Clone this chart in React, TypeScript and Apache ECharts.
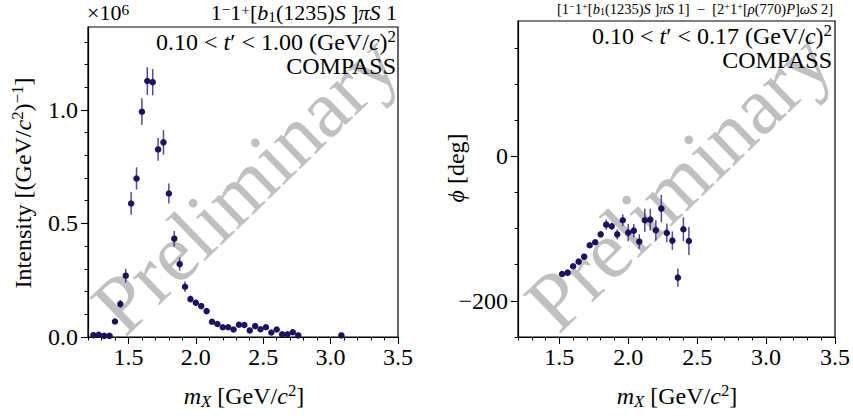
import React, { useEffect, useRef } from 'react';
import * as echarts from 'echarts';

// ---------- data ----------
const massL = [1.24, 1.28, 1.32, 1.36, 1.40, 1.44, 1.48, 1.52, 1.56, 1.60, 1.64, 1.68, 1.72, 1.76, 1.80, 1.84, 1.88, 1.92, 1.96, 2.00, 2.04, 2.08, 2.12, 2.16, 2.20, 2.24, 2.28, 2.32, 2.36, 2.40, 2.44, 2.48, 2.52, 2.56, 2.60, 2.64, 2.68, 2.72, 2.76, 3.08];
// intensity in units of 10^6
const intensityL = [0.008, 0.010, 0.005, 0.005, 0.068, 0.145, 0.270, 0.588, 0.698, 0.992, 1.127, 1.122, 0.826, 0.857, 0.632, 0.433, 0.321, 0.221, 0.167, 0.151, 0.136, 0.114, 0.067, 0.057, 0.043, 0.043, 0.033, 0.054, 0.053, 0.029, 0.048, 0.034, 0.043, 0.020, 0.033, 0.012, 0.012, 0.021, 0.007, 0.007];
const errL = [0.005, 0.005, 0.005, 0.005, 0.010, 0.018, 0.030, 0.050, 0.049, 0.059, 0.061, 0.058, 0.050, 0.054, 0.044, 0.034, 0.029, 0.023, 0.015, 0.013, 0.012, 0.011, 0.009, 0.008, 0.007, 0.007, 0.007, 0.007, 0.007, 0.007, 0.007, 0.007, 0.007, 0.006, 0.006, 0.006, 0.006, 0.006, 0.005, 0.005];

const massR = [1.52, 1.56, 1.60, 1.64, 1.68, 1.72, 1.76, 1.80, 1.84, 1.88, 1.92, 1.96, 2.00, 2.04, 2.08, 2.12, 2.16, 2.20, 2.24, 2.28, 2.32, 2.36, 2.40, 2.44];
const phaseR = [-162.9, -161.0, -152.2, -145.8, -138.9, -123.2, -119.0, -108.0, -94.6, -96.9, -108.0, -88.6, -105.6, -102.9, -118.1, -88.6, -87.7, -102.4, -72.4, -106.1, -116.7, -167.9, -101.0, -117.2];
const errR = [2, 2, 2, 2, 2, 3, 3, 4, 7, 5, 7, 8, 12, 9, 10, 16, 15, 14, 19, 13, 12.7, 12.7, 16.6, 19.4];

const xMajorTicks = [1.5, 2.0, 2.5, 3.0, 3.5];
const xMinorTicks = [1.2, 1.3, 1.4, 1.6, 1.7, 1.8, 1.9, 2.1, 2.2, 2.3, 2.4, 2.6, 2.7, 2.8, 2.9, 3.1, 3.2, 3.3, 3.4];
const yMajorTicksL = [0, 0.5, 1.0];
const yMinorTicksL = [0.1, 0.2, 0.3, 0.4, 0.6, 0.7, 0.8, 0.9, 1.1, 1.2, 1.3];
const yMajorTicksR = [-200, 0];
const yMinorTicksR = [-250, -150, -100, -50, 50, 100, 150];

// ---------- styling ----------
const SERIF = '"Liberation Serif", "DejaVu Serif", serif';
const POINT = '#1d1060';
const BAR = 'rgba(45, 30, 120, 0.8)';
const MARK = '#c0c0c0';
const FS = 24;

const GL = { left: 88, top: 27, width: 310, height: 310 };
const GR = { left: 518, top: 21, width: 317, height: 316 };

function richStyles(F: number, lh: number) {
  return {
    n: { fontSize: F, fontFamily: SERIF, lineHeight: F * lh, color: '#000' },
    i: { fontSize: F, fontFamily: SERIF, fontStyle: 'italic', lineHeight: F * lh, color: '#000' },
    sp: { fontSize: F * 0.7, fontFamily: SERIF, lineHeight: F * 0.55, verticalAlign: 'top', color: '#000' },
    sb: { fontSize: F * 0.7, fontFamily: SERIF, lineHeight: F * 0.7, verticalAlign: 'bottom', color: '#000' },
    sbi: { fontSize: F * 0.7, fontFamily: SERIF, fontStyle: 'italic', lineHeight: F * 0.7, verticalAlign: 'bottom', color: '#000' },
  };
}

function txt(text: string, x: number, y: number, F: number, align: string, vAlign: string, rotation = 0, lh = 1.2) {
  return {
    type: 'text',
    x,
    y,
    rotation,
    silent: true,
    z: 10,
    style: {
      text,
      rich: richStyles(F, lh),
      fill: '#000',
      align,
      verticalAlign: vAlign,
      fontSize: F,
      fontFamily: SERIF,
    },
  };
}

function errRender(params: any, api: any) {
  const x = api.value(0);
  const y = api.value(1);
  const e = api.value(2);
  const p1 = api.coord([x, y - e]);
  const p2 = api.coord([x, y + e]);
  return {
    type: 'line',
    shape: { x1: p1[0], y1: p1[1], x2: p2[0], y2: p2[1] },
    style: { stroke: BAR, lineWidth: 1.5 },
  };
}

function majorX(grid: number) {
  return {
    type: 'value', gridIndex: grid, min: 1.2, max: 3.5, position: 'bottom',
    axisLine: { show: true, onZero: false, lineStyle: { color: '#000', width: 1.2 } },
    axisTick: { show: true, customValues: xMajorTicks, length: 7, lineStyle: { color: '#000', width: 1.1 } },
    axisLabel: { show: true, customValues: xMajorTicks, formatter: (v: number) => v.toFixed(1), fontSize: FS, fontFamily: SERIF, color: '#000', margin: 8 },
    splitLine: { show: false },
  };
}
function minorX(grid: number) {
  return {
    type: 'value', gridIndex: grid, min: 1.2, max: 3.5, position: 'bottom',
    axisLine: { show: false, onZero: false },
    axisTick: { show: true, customValues: xMinorTicks, length: 3.5, lineStyle: { color: '#000', width: 1 } },
    axisLabel: { show: false },
    splitLine: { show: false },
  };
}

const wmark = (g: typeof GL) => ({
  type: 'text', x: g.left + g.width / 2 + 2, y: g.top + g.height / 2 + 2, rotation: (44 * Math.PI) / 180, silent: true, z: -1,
  style: { text: 'Preliminary', fill: MARK, fontSize: 82, fontFamily: SERIF, align: 'center', verticalAlign: 'middle' },
});

const option: any = {
  animation: false,
  backgroundColor: '#fff',
  grid: [
    { ...GL, show: true, borderColor: '#000', borderWidth: 1.2, backgroundColor: 'transparent' },
    { ...GR, show: true, borderColor: '#000', borderWidth: 1.2, backgroundColor: 'transparent' },
  ],
  xAxis: [majorX(0), minorX(0), majorX(1), minorX(1)],
  yAxis: [
    {
      type: 'value', gridIndex: 0, min: 0, max: 1.365, position: 'left',
      axisLine: { show: true, onZero: false, lineStyle: { color: '#000', width: 1.2 } },
      axisTick: { show: true, customValues: yMajorTicksL, length: 7, lineStyle: { color: '#000', width: 1.1 } },
      axisLabel: { show: true, customValues: yMajorTicksL, formatter: (v: number) => v.toFixed(1), fontSize: FS, fontFamily: SERIF, color: '#000', margin: 10 },
      splitLine: { show: false },
    },
    {
      type: 'value', gridIndex: 0, min: 0, max: 1.365, position: 'left',
      axisLine: { show: false, onZero: false },
      axisTick: { show: true, customValues: yMinorTicksL, length: 3.5, lineStyle: { color: '#000', width: 1 } },
      axisLabel: { show: false },
      splitLine: { show: false },
    },
    {
      type: 'value', gridIndex: 1, min: -250, max: 187, position: 'left',
      axisLine: { show: true, onZero: false, lineStyle: { color: '#000', width: 1.2 } },
      axisTick: { show: true, customValues: yMajorTicksR, length: 7, lineStyle: { color: '#000', width: 1.1 } },
      axisLabel: { show: true, customValues: yMajorTicksR, formatter: (v: number) => (v < 0 ? '\u2212' + Math.abs(v) : String(v)), fontSize: FS, fontFamily: SERIF, color: '#000', margin: 10 },
      splitLine: { show: false },
    },
    {
      type: 'value', gridIndex: 1, min: -250, max: 187, position: 'left',
      axisLine: { show: false, onZero: false },
      axisTick: { show: true, customValues: yMinorTicksR, length: 3.5, lineStyle: { color: '#000', width: 1 } },
      axisLabel: { show: false },
      splitLine: { show: false },
    },
  ],
  graphic: [
    wmark(GL),
    wmark(GR),
    txt('{n|×10}{sp|6}', 87, 12, 22, 'left', 'middle', 0, 0.95),
    txt('{n|1}{sp|−}{n|1}{sp|+}{n|[}{i|b}{sb|1}{n|(1235)}{i|S} {n|]}{i|π}{i|S}{n| 1}', 397, 12.5, 22, 'right', 'middle', 0, 0.95),
    txt('{n|0.10 < }{i|t}{n|′ < 1.00 (GeV/}{i|c}{n|)}{sp|2}', 396, 42, FS, 'right', 'middle'),
    txt('{n|COMPASS}', 396, 66, FS, 'right', 'middle'),
    txt('{n|[1}{sp|−}{n|1}{sp|+}{n|[}{i|b}{sb|1}{n|(1235)}{i|S}{n| ]}{i|πS}{n| 1]  −  [2}{sp|+}{n|1}{sp|+}{n|[}{i|ρ}{n|(770)}{i|P}{n|]}{i|ωS}{n| 2]}', 833, 9, 14.5, 'right', 'middle', 0, 1.0),
    txt('{n|0.10 < }{i|t}{n|′ < 0.17 (GeV/}{i|c}{n|)}{sp|2}', 832, 36, FS, 'right', 'middle'),
    txt('{n|COMPASS}', 832, 60, FS, 'right', 'middle'),
    txt('{n|Intensity [(GeV/}{i|c}{sp|2}{n|)}{sp|−1}{n|]}', 23, 183, FS, 'center', 'middle', Math.PI / 2),
    txt('{i|ϕ}{n| [deg]}', 456, 168, FS, 'center', 'middle', Math.PI / 2),
    txt('{i|m}{sbi|X}{n| [GeV/}{i|c}{sp|2}{n|]}', 244, 396, FS, 'center', 'middle'),
    txt('{i|m}{sbi|X}{n| [GeV/}{i|c}{sp|2}{n|]}', 677, 396, FS, 'center', 'middle'),
  ],
  series: [
    {
      type: 'custom', xAxisIndex: 0, yAxisIndex: 0, renderItem: errRender, z: 3, silent: true,
      data: massL.map((m, i) => [m, intensityL[i], errL[i]]),
    },
    {
      type: 'scatter', xAxisIndex: 0, yAxisIndex: 0, symbol: 'circle', symbolSize: 6.5, z: 4, silent: true,
      itemStyle: { color: POINT, opacity: 1 },
      data: massL.map((m, i) => [m, intensityL[i]]),
    },
    {
      type: 'custom', xAxisIndex: 2, yAxisIndex: 2, renderItem: errRender, z: 3, silent: true,
      data: massR.map((m, i) => [m, phaseR[i], errR[i]]),
    },
    {
      type: 'scatter', xAxisIndex: 2, yAxisIndex: 2, symbol: 'circle', symbolSize: 6.5, z: 4, silent: true,
      itemStyle: { color: POINT, opacity: 1 },
      data: massR.map((m, i) => [m, phaseR[i]]),
    },
  ],
};

export default function App() {
  const ref = useRef<HTMLDivElement>(null);
  useEffect(() => {
    if (!ref.current) return;
    const chart = echarts.init(ref.current, undefined, { renderer: 'svg' });
    chart.setOption(option);
    return () => chart.dispose();
  }, []);
  return (
    <div
      ref={ref}
      style={{ position: 'fixed', left: 0, top: 0, width: 853, height: 418, background: '#fff' }}
    />
  );
}
